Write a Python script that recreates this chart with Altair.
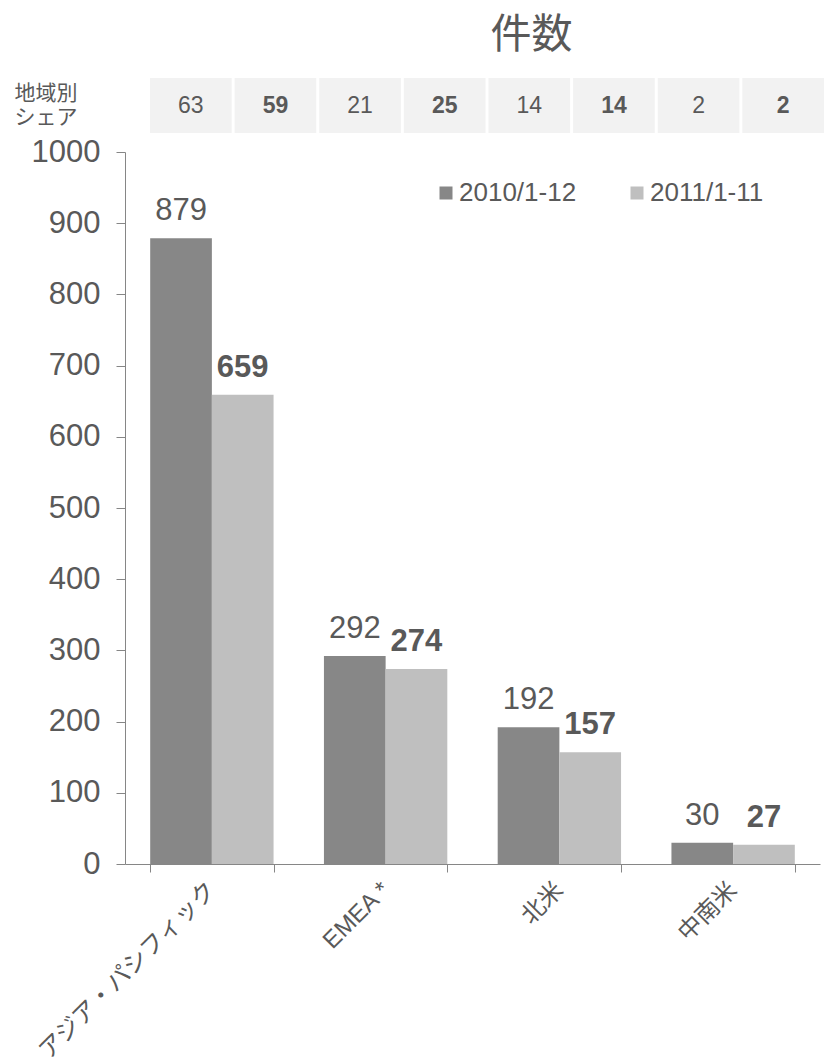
import altair as alt
import pandas as pd

categories = ["アジア・パシフィック", "EMEA *", "北米", "中南米"]
series_names = ["2010/1-12", "2011/1-11"]
counts_2010 = [879, 292, 192, 30]
counts_2011 = [659, 274, 157, 27]
share_2010 = [63, 21, 14, 2]
share_2011 = [59, 25, 14, 2]
y_ticks = [0, 100, 200, 300, 400, 500, 600, 700, 800, 900, 1000]

colors = ["#878787", "#BFBFBF"]
text_color = "#595959"
axis_color = "#868686"
cell_color = "#F2F2F2"
FONT = "Liberation Sans, Noto Sans CJK JP, sans-serif"

rows = []
for i, c in enumerate(categories):
    rows.append({"region": c, "series": series_names[0], "count": counts_2010[i], "share": share_2010[i]})
    rows.append({"region": c, "series": series_names[1], "count": counts_2011[i], "share": share_2011[i]})
df = pd.DataFrame(rows)
df["cell"] = [f"c{i:02d}" for i in range(len(df))]
df["row"] = "share"

W = 695
H = 712

# ---------- bottom: bar chart ----------
x_enc = alt.X(
    "region:N",
    sort=categories,
    scale=alt.Scale(paddingInner=0.29, paddingOuter=0.145),
    axis=alt.Axis(
        title=None, labelAngle=-45, labelAlign="right", labelBaseline="middle",
        labelFontSize=24, labelColor=text_color, labelFont=FONT, labelLimit=400,
        tickBand="extent", tickSize=8, tickColor=axis_color,
        domainColor=axis_color, labelPadding=14,
    ),
)
xo_enc = alt.XOffset("series:N", scale=alt.Scale(domain=series_names, paddingInner=0, paddingOuter=0))
y_enc = alt.Y(
    "count:Q",
    scale=alt.Scale(domain=[0, 1000]),
    axis=alt.Axis(
        values=y_ticks, format="d", title=None, grid=False, labelFontSize=31,
        labelColor=text_color, labelFont=FONT, tickSize=9, tickColor=axis_color,
        domainColor=axis_color, labelPadding=16, labelFlush=False,
    ),
)

base = alt.Chart(df)

bars = base.mark_bar().encode(
    x=x_enc,
    xOffset=xo_enc,
    y=y_enc,
    color=alt.Color(
        "series:N",
        scale=alt.Scale(domain=series_names, range=colors),
        legend=alt.Legend(
            title=None, orient="none", legendX=308, legendY=102,
            direction="horizontal", symbolType="square", symbolSize=169,
            symbolStrokeWidth=0, labelFontSize=26, labelColor=text_color,
            labelFont=FONT, columnPadding=47, labelOffset=0, padding=0,
        ),
    ),
)

lab_2010 = base.transform_filter(alt.datum.series == series_names[0]).mark_text(
    fontSize=31, color=text_color, font=FONT, baseline="alphabetic", dy=-18
).encode(x=x_enc, xOffset=xo_enc, y=y_enc, text="count:Q")

lab_2011 = base.transform_filter(alt.datum.series == series_names[1]).mark_text(
    fontSize=31, color=text_color, font=FONT, fontWeight="bold", baseline="alphabetic", dy=-18
).encode(x=x_enc, xOffset=xo_enc, y=y_enc, text="count:Q")

bottom = alt.layer(bars, lab_2010, lab_2011).properties(width=W, height=H)

# ---------- top: share table ----------
cx = alt.X("cell:N", scale=alt.Scale(range=[25, 699], paddingInner=0.035, paddingOuter=0), axis=None)
cy = alt.Y(
    "row:N",
    scale=alt.Scale(paddingInner=0, paddingOuter=0),
    axis=alt.Axis(
        title=["地域別", "シェア"], labels=False, ticks=False, domain=False,
        titleAngle=0, titleAlign="left", titleBaseline="top", titleX=-111, titleY=4,
        titleFontSize=21, titleFontWeight="normal", titleColor=text_color,
        titleFont=FONT, titleLineHeight=24,
    ),
)

cells = base.mark_rect(color=cell_color).encode(x=cx, y=cy)
share_a = base.transform_filter(alt.datum.series == series_names[0]).mark_text(
    fontSize=23, color=text_color, font=FONT
).encode(x=cx, y=cy, text="share:Q")
share_b = base.transform_filter(alt.datum.series == series_names[1]).mark_text(
    fontSize=23, color=text_color, font=FONT, fontWeight="bold"
).encode(x=cx, y=cy, text="share:Q")

top = alt.layer(cells, share_a, share_b).properties(
    width=W, height=55,
    title=alt.Title("件数", fontSize=41, font=FONT, color=text_color,
                    fontWeight="normal", anchor="middle", dx=59, offset=21),
)

chart = (
    alt.vconcat(top, bottom, spacing=3)
    .properties(padding={"left": 6, "top": 7, "right": 0, "bottom": 5})
    .configure(background="white", font=FONT)
    .configure_view(stroke=None)
)

chart.save("out.html", embed_options={"renderer": "svg", "actions": False})
